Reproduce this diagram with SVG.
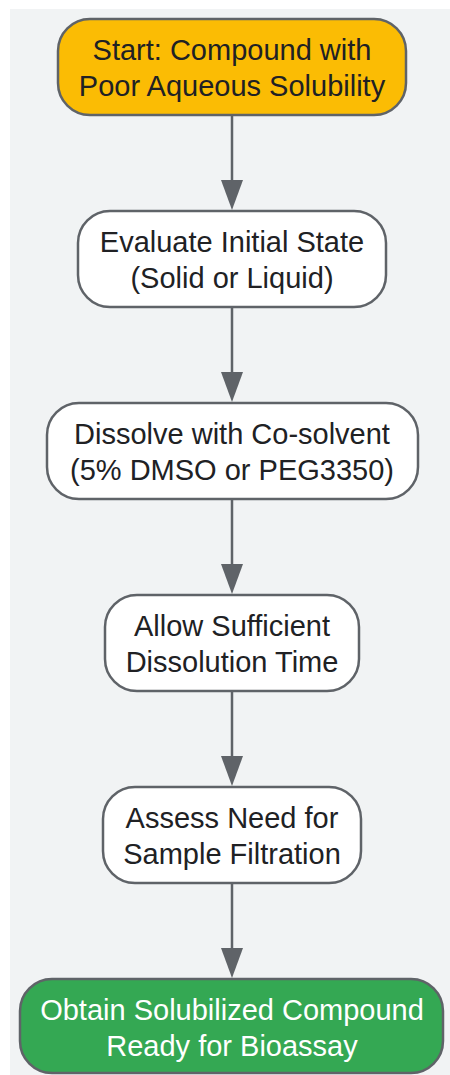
<svg xmlns="http://www.w3.org/2000/svg" width="450" height="1075" viewBox="0 0 450 1075">
<style>
.node rect{stroke:#5f6368;stroke-width:2.5}
.node text{font-family:"Liberation Sans",Arial,sans-serif;font-size:29px;text-anchor:middle;fill:#202124}
.edge line{stroke:#5f6368;stroke-width:2.5}
.edge polygon{fill:#5f6368}
</style>
<rect x="10" y="9" width="440" height="1066" fill="#f1f3f4"/>
<g class="edge" id="connectors">
<line x1="232" y1="115" x2="232" y2="182"/><polygon points="221,180 243,180 232,210"/>
<line x1="232" y1="307" x2="232" y2="374"/><polygon points="221,372 243,372 232,402"/>
<line x1="232" y1="499" x2="232" y2="566"/><polygon points="221,564 243,564 232,594"/>
<line x1="232" y1="691" x2="232" y2="758"/><polygon points="221,756 243,756 232,786"/>
<line x1="232" y1="883" x2="232" y2="950"/><polygon points="221,948 243,948 232,978"/>
</g>
<g class="node" id="n1">
<rect x="58" y="19" width="348" height="96" rx="32" fill="#fbbc04"/>
<text x="232" y="59.5">Start: Compound with</text>
<text x="232" y="95.5">Poor Aqueous Solubility</text>
</g>
<g class="node" id="n2">
<rect x="78" y="211" width="308" height="96" rx="32" fill="#ffffff"/>
<text x="232" y="251.5">Evaluate Initial State</text>
<text x="232" y="287.5">(Solid or Liquid)</text>
</g>
<g class="node" id="n3">
<rect x="47" y="403" width="371" height="96" rx="32" fill="#ffffff"/>
<text x="232" y="443.5">Dissolve with Co-solvent</text>
<text x="232" y="479.5">(5% DMSO or PEG3350)</text>
</g>
<g class="node" id="n4">
<rect x="105" y="595" width="254" height="96" rx="32" fill="#ffffff"/>
<text x="232" y="635.5">Allow Sufficient</text>
<text x="232" y="671.5">Dissolution Time</text>
</g>
<g class="node" id="n5">
<rect x="103" y="787" width="258" height="96" rx="32" fill="#ffffff"/>
<text x="232" y="827.5">Assess Need for</text>
<text x="232" y="863.5">Sample Filtration</text>
</g>
<g class="node" id="n6">
<rect x="20" y="979" width="423" height="94" rx="32" fill="#34a853"/>
<text x="232" y="1019.5" style="fill:#ffffff">Obtain Solubilized Compound</text>
<text x="232" y="1055.5" style="fill:#ffffff">Ready for Bioassay</text>
</g>
</svg>
